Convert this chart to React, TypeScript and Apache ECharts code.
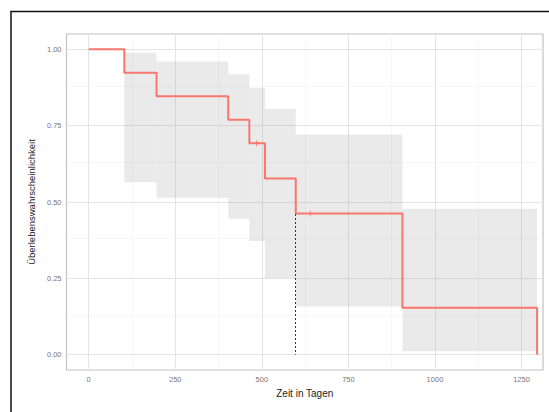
import React, { useEffect, useRef } from "react";
import * as echarts from "echarts";

// Kaplan-Meier step data
const times = [0, 103, 196, 403, 464, 509, 598, 906, 1295];
const surv = [1, 0.923, 0.846, 0.769, 0.692, 0.577, 0.462, 0.154, 0];
// confidence band per interval (times[i] .. times[i+1])
const lower = [1, 0.565, 0.514, 0.445, 0.372, 0.251, 0.158, 0.011];
const upper = [1, 0.989, 0.96, 0.918, 0.874, 0.805, 0.721, 0.478];
// censor marks
const censorTimes = [485, 640];
const censorSurv = [0.692, 0.462];
// median survival
const medianTime = 598;

const xTicks = [0, 250, 500, 750, 1000, 1250];
const xMinor = [125, 375, 625, 875, 1125];
const yTicks = [0, 0.25, 0.5, 0.75, 1];
const yMinor = [0.125, 0.375, 0.625, 0.875];

const FONT = "Liberation Sans";

export default function App() {
  const ref = useRef<HTMLDivElement>(null);
  useEffect(() => {
    if (!ref.current) return;
    const chart = echarts.init(ref.current, undefined, { renderer: "svg" });

    const bandData = lower.map((lo, i) => [times[i], times[i + 1], lo, upper[i]]);
    const lineData = times.map((t, i) => [t, surv[i]]);
    const censorData = censorTimes.map((t, i) => [t, censorSurv[i]]);

    const gridLines: any[] = [];
    xTicks.forEach((v) => gridLines.push({ xAxis: v, lineStyle: { color: "#e4e4e4", width: 1, type: "solid" } }));
    xMinor.forEach((v) => gridLines.push({ xAxis: v, lineStyle: { color: "#f2f2f2", width: 0.6, type: "solid" } }));
    yTicks.forEach((v) => gridLines.push({ yAxis: v, lineStyle: { color: "#e4e4e4", width: 1, type: "solid" } }));
    yMinor.forEach((v) => gridLines.push({ yAxis: v, lineStyle: { color: "#f2f2f2", width: 0.6, type: "solid" } }));

    const option: any = {
      animation: false,
      backgroundColor: "#ffffff",
      grid: {
        left: 66.5,
        top: 34,
        right: 6,
        bottom: 42,
        show: true,
        borderColor: "#c2c2c2",
        borderWidth: 1.2,
        backgroundColor: "transparent",
      },
      xAxis: {
        type: "value",
        min: -64,
        max: 1312,
        splitLine: { show: false },
        axisLine: { show: false },
        axisTick: { show: true, length: 3, lineStyle: { color: "#a8a8a8" }, customValues: xTicks },
        axisLabel: {
          customValues: xTicks,
          color: "#777777",
          fontSize: 7.5,
          fontFamily: FONT,
          margin: 5,
          formatter: (v: number) => String(v),
        },
        name: "Zeit in Tagen",
        nameLocation: "middle",
        nameGap: 18,
        nameTextStyle: { color: "#222222", fontSize: 10, fontFamily: FONT },
      },
      yAxis: {
        type: "value",
        min: -0.05,
        max: 1.05,
        splitLine: { show: false },
        axisLine: { show: false },
        axisTick: { show: true, length: 3, lineStyle: { color: "#a8a8a8" }, customValues: yTicks },
        axisLabel: {
          customValues: yTicks,
          color: "#777777",
          fontSize: 7.5,
          fontFamily: FONT,
          margin: 5,
          formatter: (v: number) => v.toFixed(2),
        },
        name: "Überlebenswahrscheinlichkeit",
        nameLocation: "middle",
        nameGap: 27,
        nameTextStyle: { color: "#222222", fontSize: 9.5, fontFamily: FONT },
      },
      graphic: [
        {
          type: "rect",
          shape: { x: 11, y: 11.5, width: 700, height: 700 },
          style: { fill: "none", stroke: "#111111", lineWidth: 1.5 },
          silent: true,
          z: 100,
        },
      ],
      series: [
        {
          type: "line",
          data: [],
          silent: true,
          z: 1,
          markLine: {
            z: 1,
            silent: true,
            symbol: ["none", "none"],
            label: { show: false },
            data: gridLines,
          },
        },
        {
          type: "custom",
          z: 2,
          silent: true,
          data: bandData,
          renderItem: (params: any, api: any) => {
            const p0 = api.coord([api.value(0), api.value(3)]);
            const p1 = api.coord([api.value(1), api.value(2)]);
            return {
              type: "rect",
              shape: { x: p0[0], y: p0[1], width: p1[0] - p0[0], height: p1[1] - p0[1] },
              style: { fill: "rgba(150,150,150,0.2)" },
            };
          },
        },
        {
          type: "line",
          z: 3,
          step: "end",
          data: lineData,
          showSymbol: false,
          symbol: "none",
          lineStyle: { color: "#F8766D", width: 2 },
          markLine: {
            z: 3,
            silent: true,
            symbol: ["none", "none"],
            label: { show: false },
            lineStyle: { color: "#333333", width: 1, type: [2, 2] },
            data: [[{ coord: [medianTime, 0.5] }, { coord: [medianTime, 0] }]],
          },
        },
        {
          type: "scatter",
          z: 4,
          data: censorData,
          symbol: "path://M2.5,0H3.5V2.5H6V3.5H3.5V6H2.5V3.5H0V2.5H2.5Z",
          symbolSize: 6,
          itemStyle: { color: "#F8766D" },
        },
      ],
    };
    chart.setOption(option);
    return () => chart.dispose();
  }, []);
  return (
    <div
      ref={ref}
      style={{ position: "absolute", left: 0, top: 0, width: 549, height: 412 }}
    />
  );
}
